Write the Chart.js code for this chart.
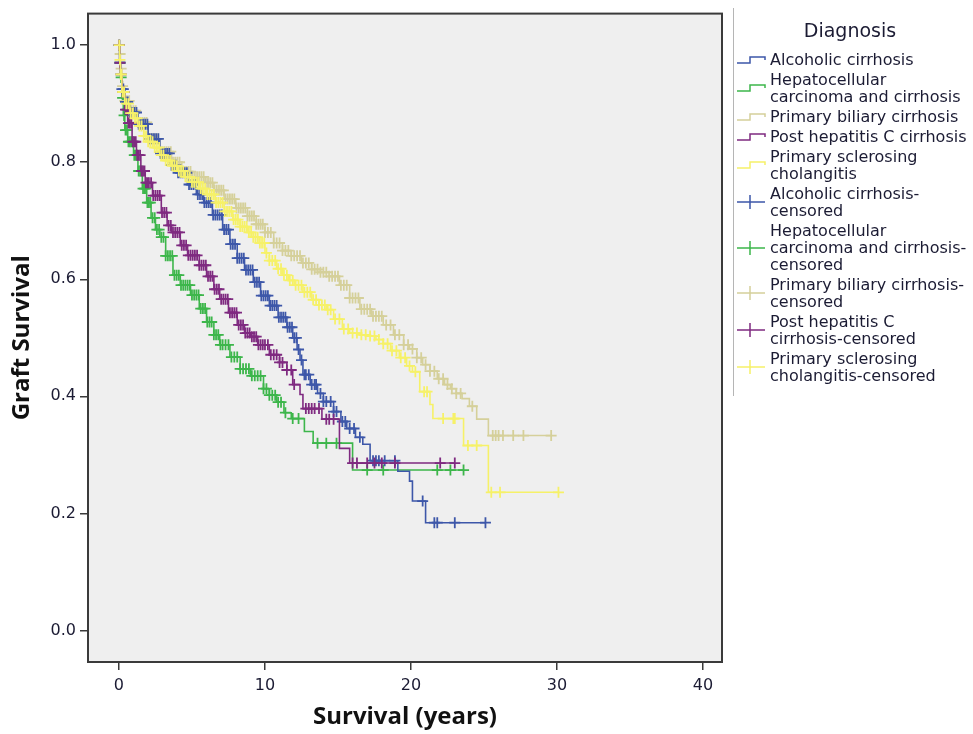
<!DOCTYPE html>
<html>
<head>
<meta charset="utf-8">
<title>Graft Survival by Diagnosis</title>
<script src="https://cdn.jsdelivr.net/npm/chart.js@4.4.1/dist/chart.umd.min.js"></script>
<style>
  html, body { margin: 0; padding: 0; background: #fff; }
  #wrap { position: relative; width: 973px; height: 734px; }
  #km { position: absolute; left: 0; top: 0; }
  #legend {
    position: absolute; left: 733px; top: 8px; width: 240px; height: 388px;
    border-left: 1px solid #b5b5b5;
    font-family: "DejaVu Sans", sans-serif; color: #1b1b33;
  }
  #legend .title { font-size: 19px; line-height: 22px; text-align: center; padding-top: 11px; margin-left: -8px; }
  #legend .items { margin-top: 10px; }
  #legend .item { display: flex; align-items: center; margin-bottom: 3px; }
  #legend .icon { width: 36px; flex: none; }
  #legend .icon svg { display: block; margin-left: 2px; }
  #legend .text { font-size: 16px; line-height: 17px; white-space: nowrap; }
</style>
</head>
<body>
<div id="wrap">
  <canvas id="km" width="973" height="734"></canvas>
  <div id="legend">
    <div class="title">Diagnosis</div>
    <div class="items" id="legendItems"></div>
  </div>
</div>
<script>
// --- Data ---
const xTicks = [0, 10, 20, 30, 40];
const yTicks = [0, 0.2, 0.4, 0.6, 0.8, 1.0];

const diagnoses = ['Alcoholic cirrhosis', 'Hepatocellular carcinoma and cirrhosis', 'Primary biliary cirrhosis',
                   'Post hepatitis C cirrhosis', 'Primary sclerosing cholangitis'];
const seriesColors = ['#3d57a9', '#3db64b', '#d5d09a', '#7f2a80', '#f6f168'];

// Alcoholic cirrhosis
const alcTime = [0, 0.05, 0.1, 0.2, 0.4, 0.75, 1.3, 2.0, 2.8, 3.5, 4.0, 4.7, 5.3, 5.8, 6.4, 7.1, 7.6, 8.1, 8.6, 9.2,
                 9.7, 10.3, 10.9, 11.5, 11.9, 12.2, 12.4, 12.6, 13.1, 13.6, 14.0, 14.7, 15.2, 15.6, 16.2, 16.7, 17.2,
                 19.1, 19.9, 20.1, 21.0, 25.1];
const alcSurv = [1.0, 0.97, 0.95, 0.925, 0.903, 0.885, 0.865, 0.84, 0.815, 0.795, 0.782, 0.762, 0.745, 0.731, 0.71,
                 0.685, 0.66, 0.636, 0.616, 0.595, 0.572, 0.555, 0.535, 0.518, 0.5, 0.48, 0.462, 0.437, 0.42, 0.405,
                 0.391, 0.374, 0.357, 0.345, 0.33, 0.318, 0.29, 0.272, 0.255, 0.221, 0.184, 0.184];
const alcCensor = [0.02, 0.07, 0.13, 0.2, 0.3, 0.45, 0.6, 0.75, 0.9, 1.05, 1.2, 1.35, 1.5, 1.65, 1.8, 1.95, 2.1,
                   2.25, 2.4, 2.55, 2.7, 2.85, 3.0, 3.15, 3.3, 3.45, 3.6, 3.75, 3.9, 4.05, 4.2, 4.35, 4.5, 4.65,
                   4.8, 4.95, 5.1, 5.25, 5.4, 5.55, 5.7, 5.85, 6.0, 6.15, 6.3, 6.45, 6.6, 6.75, 6.9, 7.05, 7.2,
                   7.35, 7.5, 7.65, 7.8, 7.95, 8.1, 8.25, 8.4, 8.55, 8.7, 8.85, 9.0, 9.15, 9.3, 9.45, 9.6, 9.75,
                   9.9, 10.05, 10.2, 10.35, 10.5, 10.65, 10.8, 10.95, 11.1, 11.25, 11.4, 11.55, 11.7, 11.85, 12.0,
                   12.15, 12.3, 12.5, 12.7, 12.8, 13.0, 13.2, 13.4, 13.5, 13.8, 14.0, 14.2, 14.5, 14.7, 14.9,
                   15.3, 15.5, 15.8, 16.1, 16.5, 17.4, 17.6, 17.8, 18.2, 18.9, 20.8, 21.6, 21.8, 23.0, 25.1];

// Hepatocellular carcinoma and cirrhosis
const hccTime = [0, 0.05, 0.1, 0.2, 0.3, 0.4, 0.6, 1.0, 1.3, 1.6, 1.9, 2.2, 2.5, 2.8, 3.2, 3.7, 4.2, 4.9, 5.5, 6.0,
                 6.5, 6.9, 7.6, 8.3, 9.0, 9.9, 10.3, 10.8, 11.3, 11.8, 12.7, 13.3, 16.0, 23.6];
const hccSurv = [1.0, 0.97, 0.945, 0.91, 0.88, 0.855, 0.835, 0.812, 0.785, 0.755, 0.731, 0.705, 0.685, 0.672, 0.64,
                 0.607, 0.59, 0.573, 0.55, 0.527, 0.505, 0.488, 0.467, 0.447, 0.435, 0.413, 0.402, 0.39, 0.372, 0.362,
                 0.34, 0.32, 0.274, 0.274];
const hccCensor = [0.02, 0.07, 0.15, 0.25, 0.35, 0.45, 0.55, 0.65, 0.75, 0.85, 0.95, 1.05, 1.15, 1.25, 1.35, 1.45,
                   1.55, 1.65, 1.75, 1.85, 1.95, 2.05, 2.15, 2.3, 2.45, 2.6, 2.75, 2.9, 3.05, 3.2, 3.35, 3.5, 3.65,
                   3.8, 3.95, 4.1, 4.25, 4.4, 4.55, 4.7, 4.85, 5.0, 5.15, 5.3, 5.45, 5.6, 5.75, 5.9, 6.05, 6.2,
                   6.35, 6.5, 6.65, 6.8, 6.95, 7.1, 7.3, 7.5, 7.7, 7.9, 8.1, 8.3, 8.5, 8.7, 8.9, 9.1, 9.3, 9.5,
                   9.7, 9.9, 10.1, 10.3, 10.5, 10.7, 10.9, 11.1, 11.4, 11.9, 12.3, 13.6, 14.2, 14.9, 17.0, 18.1,
                   21.8, 22.7, 23.6];

// Primary biliary cirrhosis
const pbcTime = [0, 0.05, 0.1, 0.2, 0.4, 0.75, 1.3, 2.0, 2.8, 3.6, 4.3, 5.0, 5.9, 6.5, 7.2, 8.0, 8.8, 9.4, 10.0,
                 10.6, 11.2, 11.8, 12.5, 13.2, 13.8, 14.4, 15.1, 15.8, 16.5, 17.3, 18.1, 18.8, 19.5, 19.9, 20.4,
                 20.8, 21.3, 21.8, 22.3, 22.7, 23.1, 23.5, 24.0, 24.5, 25.3, 29.6];
const pbcSurv = [1.0, 0.985, 0.96, 0.93, 0.905, 0.888, 0.868, 0.84, 0.818, 0.8, 0.784, 0.775, 0.765, 0.752, 0.737,
                 0.722, 0.708, 0.694, 0.68, 0.662, 0.649, 0.64, 0.628, 0.617, 0.612, 0.605, 0.59, 0.568, 0.549,
                 0.537, 0.522, 0.505, 0.488, 0.481, 0.466, 0.454, 0.443, 0.43, 0.42, 0.413, 0.405, 0.396, 0.383,
                 0.361, 0.333, 0.333];
const pbcCensor = [0.01, 0.03, 0.08, 0.15, 0.25, 0.4, 0.55, 0.7, 0.85, 1.0, 1.15, 1.3, 1.45, 1.6, 1.75, 1.9, 2.05,
                   2.2, 2.35, 2.5, 2.65, 2.8, 2.95, 3.1, 3.25, 3.4, 3.55, 3.7, 3.85, 4.0, 4.15, 4.3, 4.45, 4.6,
                   4.75, 4.9, 5.05, 5.2, 5.35, 5.5, 5.65, 5.8, 5.95, 6.1, 6.25, 6.4, 6.55, 6.7, 6.85, 7.0, 7.15,
                   7.3, 7.45, 7.6, 7.75, 7.9, 8.05, 8.2, 8.35, 8.5, 8.65, 8.8, 8.95, 9.1, 9.25, 9.4, 9.55, 9.7,
                   9.85, 10.0, 10.2, 10.4, 10.6, 10.8, 11.0, 11.2, 11.4, 11.6, 11.8, 12.0, 12.2, 12.4, 12.6, 12.8,
                   13.0, 13.2, 13.4, 13.6, 13.8, 14.0, 14.2, 14.4, 14.6, 14.8, 15.0, 15.2, 15.4, 15.6, 15.8, 16.0,
                   16.2, 16.4, 16.6, 16.8, 17.0, 17.2, 17.4, 17.6, 17.8, 18.0, 18.3, 18.6, 18.9, 19.2, 19.5, 19.8,
                   20.1, 20.4, 20.7, 21.0, 21.3, 21.6, 21.9, 22.2, 22.5, 22.8, 23.1, 23.4, 24.2, 25.6, 25.8, 26.0,
                   26.3, 27.0, 27.7, 29.6];

// Post hepatitis C cirrhosis
const hcvTime = [0, 0.05, 0.1, 0.2, 0.4, 0.6, 0.9, 1.2, 1.5, 1.8, 2.3, 2.9, 3.3, 3.6, 4.2, 4.7, 5.5, 6.0, 6.5, 6.9,
                 7.5, 8.1, 8.6, 9.0, 9.5, 10.3, 11.0, 11.5, 11.9, 12.4, 12.6, 13.9, 15.1, 15.8, 23.0];
const hcvSurv = [1.0, 0.97, 0.95, 0.92, 0.89, 0.867, 0.835, 0.812, 0.785, 0.765, 0.743, 0.714, 0.692, 0.68, 0.658,
                 0.641, 0.624, 0.605, 0.583, 0.566, 0.543, 0.522, 0.508, 0.502, 0.488, 0.471, 0.458, 0.445, 0.42,
                 0.403, 0.379, 0.361, 0.311, 0.286, 0.286];
const hcvCensor = [0.02, 0.07, 0.15, 0.25, 0.35, 0.45, 0.55, 0.65, 0.75, 0.85, 0.95, 1.05, 1.15, 1.25, 1.35, 1.45,
                   1.55, 1.65, 1.75, 1.85, 1.95, 2.05, 2.2, 2.35, 2.5, 2.65, 2.8, 2.95, 3.1, 3.25, 3.4, 3.55, 3.7,
                   3.85, 4.0, 4.15, 4.3, 4.45, 4.6, 4.75, 4.9, 5.05, 5.2, 5.35, 5.5, 5.65, 5.8, 5.95, 6.1, 6.25,
                   6.4, 6.55, 6.7, 6.85, 7.0, 7.15, 7.3, 7.45, 7.6, 7.75, 7.9, 8.05, 8.2, 8.35, 8.5, 8.65, 8.8,
                   8.95, 9.1, 9.25, 9.4, 9.55, 9.7, 9.85, 10.0, 10.2, 10.4, 10.6, 10.8, 11.0, 11.2, 11.5, 11.8,
                   12.0, 12.8, 13.0, 13.2, 13.4, 13.7, 14.2, 14.4, 14.7, 16.0, 16.3, 17.0, 17.5, 18.0, 18.9, 22.0,
                   23.0];

// Primary sclerosing cholangitis
const pscTime = [0, 0.05, 0.1, 0.2, 0.4, 0.75, 1.0, 1.3, 1.7, 2.0, 2.4, 2.8, 3.2, 3.6, 4.0, 4.5, 5.0, 5.5, 6.0, 6.6,
                 7.2, 7.8, 8.3, 8.8, 9.2, 9.6, 10.0, 10.3, 10.8, 11.2, 11.6, 12.0, 12.6, 13.2, 13.7, 14.2, 14.7,
                 15.3, 15.8, 16.5, 17.0, 17.6, 18.1, 18.6, 19.2, 19.7, 20.1, 20.6, 21.3, 21.5, 23.6, 25.3, 30.1];
const pscSurv = [1.0, 0.975, 0.95, 0.92, 0.9, 0.884, 0.875, 0.862, 0.845, 0.835, 0.825, 0.812, 0.803, 0.794, 0.785,
                 0.775, 0.766, 0.755, 0.745, 0.731, 0.716, 0.702, 0.69, 0.68, 0.672, 0.662, 0.645, 0.632, 0.618,
                 0.607, 0.598, 0.59, 0.578, 0.565, 0.556, 0.548, 0.532, 0.515, 0.508, 0.505, 0.503, 0.497, 0.49,
                 0.478, 0.466, 0.452, 0.442, 0.408, 0.386, 0.362, 0.316, 0.236, 0.236];
const pscCensor = [0.02, 0.07, 0.12, 0.17, 0.25, 0.35, 0.5, 0.65, 0.8, 0.95, 1.1, 1.25, 1.4, 1.55, 1.7, 1.85, 2.0,
                   2.15, 2.3, 2.45, 2.6, 2.75, 2.9, 3.05, 3.2, 3.35, 3.5, 3.65, 3.8, 3.95, 4.1, 4.25, 4.4, 4.55,
                   4.7, 4.85, 5.0, 5.15, 5.3, 5.45, 5.6, 5.75, 5.9, 6.05, 6.2, 6.35, 6.5, 6.65, 6.8, 6.95, 7.1,
                   7.25, 7.4, 7.55, 7.7, 7.85, 8.0, 8.15, 8.3, 8.45, 8.6, 8.75, 8.9, 9.05, 9.2, 9.35, 9.5, 9.65,
                   9.8, 9.95, 10.1, 10.3, 10.5, 10.7, 10.9, 11.1, 11.3, 11.5, 11.7, 11.9, 12.1, 12.3, 12.5, 12.7,
                   12.9, 13.1, 13.3, 13.5, 13.7, 13.9, 14.1, 14.3, 14.5, 14.8, 15.1, 15.4, 15.7, 16.0, 16.3, 16.6,
                   16.9, 17.2, 17.5, 17.8, 18.1, 18.4, 18.7, 19.0, 19.3, 19.6, 19.9, 20.3, 20.9, 21.1, 22.2, 22.9,
                   23.0, 23.9, 24.5, 25.5, 26.1, 30.1];

const legendLines = [
  ['Alcoholic cirrhosis'],
  ['Hepatocellular', 'carcinoma and cirrhosis'],
  ['Primary biliary cirrhosis'],
  ['Post hepatitis C cirrhosis'],
  ['Primary sclerosing', 'cholangitis'],
  ['Alcoholic cirrhosis-', 'censored'],
  ['Hepatocellular', 'carcinoma and cirrhosis-', 'censored'],
  ['Primary biliary cirrhosis-', 'censored'],
  ['Post hepatitis C', 'cirrhosis-censored'],
  ['Primary sclerosing', 'cholangitis-censored']
];

// --- Helpers ---
// survival value of a step curve at time t (last step at or before t)
function survivalAt(times, surv, t) {
  let s = surv[0];
  for (let i = 0; i < times.length; i++) {
    if (times[i] <= t) s = surv[i];
  }
  return s;
}

const series = [
  { times: alcTime, surv: alcSurv, censor: alcCensor, order: 2 },
  { times: hccTime, surv: hccSurv, censor: hccCensor, order: 4 },
  { times: pbcTime, surv: pbcSurv, censor: pbcCensor, order: 3 },
  { times: hcvTime, surv: hcvSurv, censor: hcvCensor, order: 1 },
  { times: pscTime, surv: pscSurv, censor: pscCensor, order: 0 }
];

const datasets = [];
series.forEach((s, i) => {
  datasets.push({
    label: diagnoses[i],
    data: s.times.map((t, k) => ({ x: t, y: s.surv[k] })),
    showLine: true,
    stepped: true,
    borderColor: seriesColors[i],
    borderWidth: 1.6,
    pointRadius: 0,
    fill: false,
    order: s.order
  });
  datasets.push({
    label: diagnoses[i] + '-censored',
    data: s.censor.map(t => ({ x: t, y: survivalAt(s.times, s.surv, t) })),
    showLine: false,
    pointStyle: 'cross',
    pointRadius: 5.5,
    borderWidth: 1.8,
    borderColor: seriesColors[i],
    backgroundColor: seriesColors[i],
    order: s.order
  });
});

// grey plot area + dark frame
const plotFrame = {
  id: 'plotFrame',
  beforeDraw(chart) {
    const { ctx, chartArea: a } = chart;
    ctx.save();
    ctx.fillStyle = '#efefef';
    ctx.fillRect(a.left, a.top, a.right - a.left, a.bottom - a.top);
    ctx.restore();
  },
  afterDraw(chart) {
    const { ctx, chartArea: a } = chart;
    ctx.save();
    ctx.strokeStyle = '#3a3a3a';
    ctx.lineWidth = 2;
    ctx.strokeRect(a.left, a.top, a.right - a.left, a.bottom - a.top);
    ctx.restore();
  }
};

Chart.defaults.font.family = '"DejaVu Sans", sans-serif';
Chart.defaults.color = '#1b1b33';

const chart = new Chart(document.getElementById('km'), {
  type: 'scatter',
  data: { datasets },
  options: {
    responsive: false,
    animation: false,
    layout: { padding: { top: 10, right: 251, left: 0, bottom: 0 } },
    plugins: { legend: { display: false }, tooltip: { enabled: false } },
    scales: {
      x: {
        type: 'linear', min: -2.12, max: 41.3,
        afterBuildTicks: s => { s.ticks = xTicks.map(v => ({ value: v })); },
        afterFit: s => { s.height = 72; },
        ticks: { font: { size: 16 }, padding: 6, color: '#1b1b33' },
        grid: { drawOnChartArea: false, tickLength: 8, color: '#3a3a3a', lineWidth: 1.5 },
        border: { display: false },
        title: { display: true, text: 'Survival (years)', color: '#111',
                 font: { family: '"Open Sans", sans-serif', size: 24, weight: 'bold' },
                 padding: { top: 0, bottom: 2 } }
      },
      y: {
        type: 'linear', min: -0.054, max: 1.054,
        afterBuildTicks: s => { s.ticks = yTicks.map(v => ({ value: v })); },
        afterFit: s => { s.width = 88; },
        ticks: { font: { size: 16 }, padding: 4, color: '#1b1b33', callback: v => v.toFixed(1) },
        grid: { drawOnChartArea: false, tickLength: 8, color: '#3a3a3a', lineWidth: 1.5 },
        border: { display: false },
        title: { display: true, text: 'Graft Survival', color: '#111',
                 font: { family: '"Open Sans", sans-serif', size: 24, weight: 'bold' },
                 padding: { top: 8, bottom: 0 } }
      }
    }
  },
  plugins: [plotFrame]
});

// --- HTML legend ---
function legendIcon(color, censored) {
  const path = censored ? 'M1 7 H29 M14 0 V14' : 'M1 10 H14 V4 H29 V7';
  return `<svg width="30" height="14" viewBox="0 0 30 14"><path d="${path}" fill="none" stroke="${color}" stroke-width="1.5"/></svg>`;
}

const legendBox = document.getElementById('legendItems');
legendLines.forEach((lines, i) => {
  const censored = i >= diagnoses.length;
  const color = seriesColors[i % diagnoses.length];
  const row = document.createElement('div');
  row.className = 'item';
  row.innerHTML = `<div class="icon">${legendIcon(color, censored)}</div><div class="text">${lines.join('<br>')}</div>`;
  legendBox.appendChild(row);
});
</script>
</body>
</html>
